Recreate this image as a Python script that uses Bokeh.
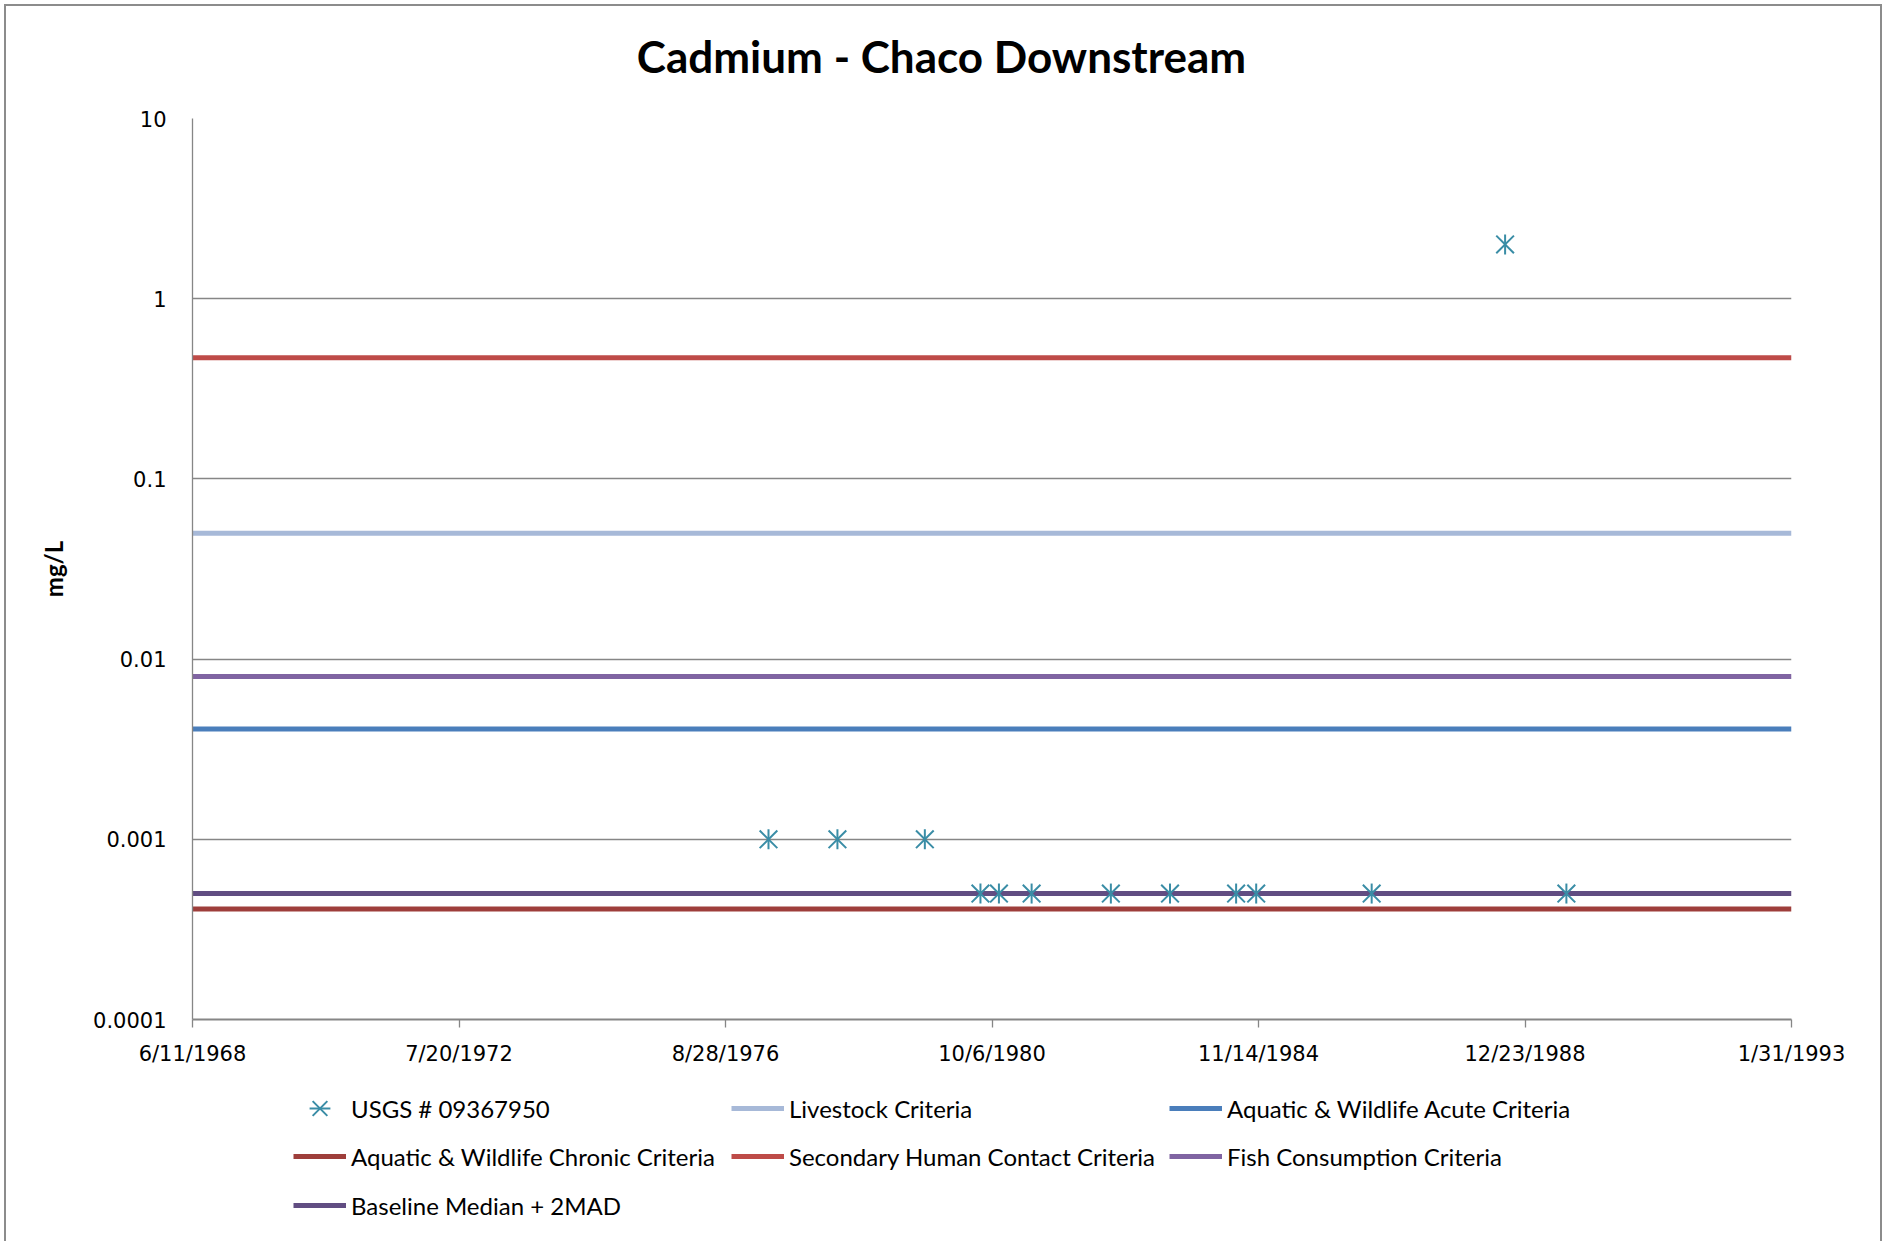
import pandas as pd
from bokeh.plotting import figure
from bokeh.layouts import column
from bokeh.models import (Range1d, FixedTicker, Legend, LegendItem, Label,
                          CustomJSTickFormatter, ColumnDataSource)
from bokeh.embed import file_html
from bokeh.resources import INLINE

# ---------------- data ----------------
title_text = "Cadmium - Chaco Downstream"
y_label = "mg/L"

sample_name = "USGS # 09367950"
sample_dates = ["1977-04-27", "1978-05-20", "1979-09-24", "1980-08-02",
                "1980-11-14", "1981-05-17", "1982-08-06", "1983-07-05",
                "1984-07-11", "1984-11-01", "1986-08-13", "1988-09-02",
                "1989-08-13"]
sample_values = [0.001, 0.001, 0.001, 0.0005,
                 0.0005, 0.0005, 0.0005, 0.0005,
                 0.0005, 0.0005, 0.0005, 2.0,
                 0.0005]

x_tick_dates = ["1968-06-11", "1972-07-20", "1976-08-28", "1980-10-06",
                "1984-11-14", "1988-12-23", "1993-01-31"]
x_tick_labels = ["6/11/1968", "7/20/1972", "8/28/1976", "10/6/1980",
                 "11/14/1984", "12/23/1988", "1/31/1993"]
y_ticks = [0.0001, 0.001, 0.01, 0.1, 1, 10]
y_tick_labels = ["0.0001", "0.001", "0.01", "0.1", "1", "10"]

criteria_names = ["Livestock Criteria",
                  "Aquatic & Wildlife Acute Criteria",
                  "Aquatic & Wildlife Chronic Criteria",
                  "Secondary Human Contact Criteria",
                  "Fish Consumption Criteria",
                  "Baseline Median + 2MAD"]
criteria_values = [0.05, 0.0041, 0.00041, 0.47, 0.008, 0.0005]
criteria_colors = ["#A7B9D8", "#4A7EBB", "#9E3E3B", "#BE4B48", "#8064A2", "#614D82"]
marker_color = "#3A8DA6"

# ---------------- helpers ----------------
x_tick_ms = [float(v) for v in (pd.to_datetime(x_tick_dates).astype("int64") // 10**6)]
FONT = "Lato"
TICKFONT = "DejaVu Sans"
GRID = "#868686"
W = 1874


def strip(height, y_range=(0, 1)):
    f = figure(width=W, height=height, x_range=Range1d(0, 1),
               y_range=Range1d(*y_range),
               x_axis_location=None, y_axis_location=None,
               output_backend="svg", toolbar_location=None, min_border=0,
               background_fill_color="white", border_fill_color="white")
    f.outline_line_color = None
    f.grid.visible = False
    return f


# ---------------- title strip ----------------
tfig = strip(92)
tfig.add_layout(Label(x=749, y=43, x_units="screen", y_units="screen",
                      text=title_text, text_align="center",
                      text_baseline="alphabetic",
                      text_font=FONT, text_font_style="bold",
                      text_font_size="44px", text_color="#000000"))

# ---------------- main chart ----------------
p = figure(width=W, height=981,
           x_axis_type="datetime", y_axis_type="log",
           x_range=Range1d(x_tick_ms[0], x_tick_ms[-1]),
           y_range=Range1d(y_ticks[0], y_ticks[-1]),
           output_backend="svg", toolbar_location=None,
           min_border_left=186, min_border_right=89,
           min_border_top=20, min_border_bottom=60,
           background_fill_color="white", border_fill_color="white")
p.outline_line_color = None

xfmt = CustomJSTickFormatter(args=dict(tvals=x_tick_ms, tlabs=x_tick_labels), code="""
const i = tvals.findIndex(t => Math.abs(t - tick) < 1e-6 * Math.abs(t) + 1);
return i >= 0 ? tlabs[i] : '';
""")
yfmt = CustomJSTickFormatter(args=dict(tvals=y_ticks, tlabs=y_tick_labels), code="""
const i = tvals.findIndex(t => Math.abs(t - tick) < 1e-6 * Math.abs(t));
return i >= 0 ? tlabs[i] : '';
""")
p.xaxis.ticker = FixedTicker(ticks=x_tick_ms, minor_ticks=[])
p.xaxis.formatter = xfmt
p.yaxis.ticker = FixedTicker(ticks=y_ticks, minor_ticks=[])
p.yaxis.formatter = yfmt

for ax in (p.xaxis[0], p.yaxis[0]):
    ax.major_label_text_font = TICKFONT
    ax.major_label_text_font_size = "21px"
    ax.major_label_text_color = "#000000"
    ax.axis_line_color = GRID
    ax.minor_tick_line_color = None

p.xaxis.axis_line_width = 2
p.xaxis.major_tick_line_color = GRID
p.xaxis.major_tick_line_width = 1.3
p.xaxis.major_tick_in = 0
p.xaxis.major_tick_out = 8
p.xaxis.major_label_standoff = 14

p.yaxis.axis_line_width = 1.3
p.yaxis.major_tick_line_color = None
p.yaxis.major_tick_in = 0
p.yaxis.major_tick_out = 0
p.yaxis.major_label_standoff = 26
p.yaxis.axis_label = y_label
p.yaxis.axis_label_text_font = FONT
p.yaxis.axis_label_text_font_style = "bold"
p.yaxis.axis_label_text_font_size = "24px"
p.yaxis.axis_label_text_color = "#000000"
p.yaxis.axis_label_standoff = 22

p.xgrid.visible = False
p.ygrid.ticker = FixedTicker(ticks=y_ticks, minor_ticks=[])
p.ygrid.grid_line_color = GRID
p.ygrid.grid_line_width = 1.3


def draw_series(fig):
    """Criteria lines and sample markers (Excel star = X + vertical bar)."""
    lines = [fig.line(x=[x_tick_ms[0], x_tick_ms[-1]], y=[val, val],
                      line_color=col, line_width=5)
             for val, col in zip(criteria_values, criteria_colors)]
    src = ColumnDataSource(dict(x=pd.to_datetime(sample_dates), y=sample_values))
    mx = fig.scatter("x", "y", source=src, marker="x", size=25,
                     line_color=marker_color, line_width=2)
    mb = fig.scatter("x", "y", source=src, marker="dash", size=20, angle=1.5708,
                     line_color=marker_color, line_width=2)
    return lines, [mx, mb]


draw_series(p)

# ---------------- legend strip ----------------
# same series drawn in a strip whose y-range (negative) keeps them out of view;
# the strip only shows the legend
leg = strip(162, y_range=(-2, -1))
lrs, marks = draw_series(leg)

rows = [
    [LegendItem(label=sample_name, renderers=marks),
     LegendItem(label=criteria_names[0], renderers=[lrs[0]]),
     LegendItem(label=criteria_names[1], renderers=[lrs[1]])],
    [LegendItem(label=criteria_names[2], renderers=[lrs[2]]),
     LegendItem(label=criteria_names[3], renderers=[lrs[3]]),
     LegendItem(label=criteria_names[4], renderers=[lrs[4]])],
    [LegendItem(label=criteria_names[5], renderers=[lrs[5]])],
]
row_y = [107, 59, 10]
for items, vy in zip(rows, row_y):
    lg = Legend(items=items, orientation="horizontal", location=(101, vy),
                glyph_width=53, glyph_height=52, label_width=380, label_height=24,
                label_standoff=5, spacing=0, padding=0, margin=0,
                border_line_color=None, background_fill_alpha=0,
                label_text_font=FONT, label_text_font_size="24px",
                label_text_color="#000000")
    leg.add_layout(lg, "center")

layout = column(tfig, p, leg, spacing=0,
                styles={"margin-left": "4px", "margin-top": "4px",
                        "border-left": "2px solid #8c8c8c",
                        "border-top": "2px solid #8c8c8c",
                        "border-right": "2px solid #8c8c8c"})

open("out.html", "w").write(file_html(layout, INLINE))
